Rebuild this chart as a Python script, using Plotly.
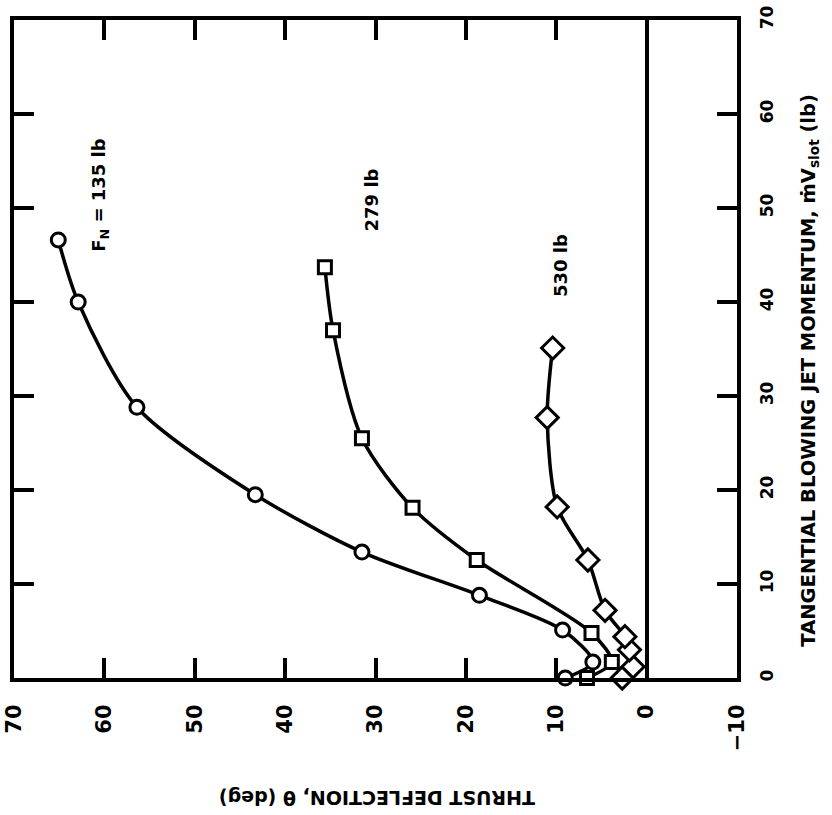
import plotly.graph_objects as go

# Thrust deflection theta (deg) vs tangential blowing jet momentum (lb)
theta_135 = [9.0, 5.95, 9.3, 18.5, 31.5, 43.3, 56.4, 62.9, 65.1]
mom_135 = [0.0, 1.7, 5.1, 8.8, 13.4, 19.5, 28.8, 40.0, 46.6]

theta_279 = [6.6, 3.85, 6.1, 18.8, 25.9, 31.5, 34.7, 35.6]
mom_279 = [0.0, 1.7, 4.8, 12.55, 18.1, 25.5, 37.0, 43.7]

theta_530 = [2.7, 1.5, 1.9, 2.4, 4.6, 6.5, 9.9, 11.0, 10.4]
mom_530 = [0.0, 1.2, 3.0, 4.4, 7.2, 12.55, 18.2, 27.7, 35.1]

x_ticks = [70, 60, 50, 40, 30, 20, 10, 0, -10]
x_tick_text = ["70", "60", "50", "40", "30", "20", "10", "0", "\u221210"]
y_ticks = [0, 10, 20, 30, 40, 50, 60, 70]

labels = ["F<sub>N</sub> = 135 lb", "279 lb", "530 lb"]
label_theta = [60.5, 30.4, 9.5]
label_mom = [51.4, 50.9, 43.9]

FONT = "DejaVu Sans, Liberation Sans, Arial, sans-serif"

fig = go.Figure()
series = [
    (theta_135, mom_135, "circle", 14),
    (theta_279, mom_279, "square", 13),
    (theta_530, mom_530, "diamond", 17),
]
for th, m, sym, sz in series:
    fig.add_trace(go.Scatter(
        x=th, y=m, mode="lines+markers",
        line=dict(color="black", width=3.5, shape="spline", smoothing=0.8),
        marker=dict(symbol=sym, size=sz, color="white",
                    line=dict(color="black", width=3)),
        cliponaxis=False, showlegend=False,
    ))

for txt, tx, ty in zip(labels, label_theta, label_mom):
    fig.add_annotation(x=tx, y=ty, xref="x", yref="y", text=txt, textangle=-90,
                       showarrow=False,
                       font=dict(family=FONT, size=18, color="black", weight="bold"))

fig.add_annotation(x=1.099, y=0.468, xref="paper", yref="paper",
                   text="TANGENTIAL BLOWING JET MOMENTUM, m\u0307V<sub>slot</sub> (lb)",
                   textangle=-90, showarrow=False, xanchor="center", yanchor="middle",
                   font=dict(family=FONT, size=19.5, color="black", weight="bold"))
fig.add_annotation(x=0.502, y=-0.182, xref="paper", yref="paper",
                   text="THRUST DEFLECTION, \u03b8 (deg)",
                   textangle=180, showarrow=False, xanchor="center", yanchor="middle",
                   font=dict(family=FONT, size=19, color="black", weight="bold"))

fig.update_xaxes(
    range=[70, -10], tickvals=x_ticks, ticktext=x_tick_text, tickangle=-90,
    ticks="inside", ticklen=20, tickwidth=3.5, tickcolor="black",
    showline=True, linewidth=4, linecolor="black", mirror="ticks",
    showgrid=False, zeroline=True, zerolinecolor="black", zerolinewidth=3.5,
    ticklabelstandoff=14, automargin=False,
    tickfont=dict(family=FONT, size=21, color="black", weight="bold"),
)
fig.update_yaxes(
    range=[0, 70], tickvals=y_ticks, tickangle=-90, side="right",
    ticks="inside", ticklen=20, tickwidth=3.5, tickcolor="black",
    showline=True, linewidth=4, linecolor="black", mirror="ticks",
    showgrid=False, zeroline=False, ticklabelstandoff=12, automargin=False,
    tickfont=dict(family=FONT, size=17, color="black", weight="bold"),
)
fig.update_layout(
    width=832, height=815,
    margin=dict(l=14, r=95, t=20, b=137),
    paper_bgcolor="white", plot_bgcolor="white",
)
fig.write_html("out.html")
